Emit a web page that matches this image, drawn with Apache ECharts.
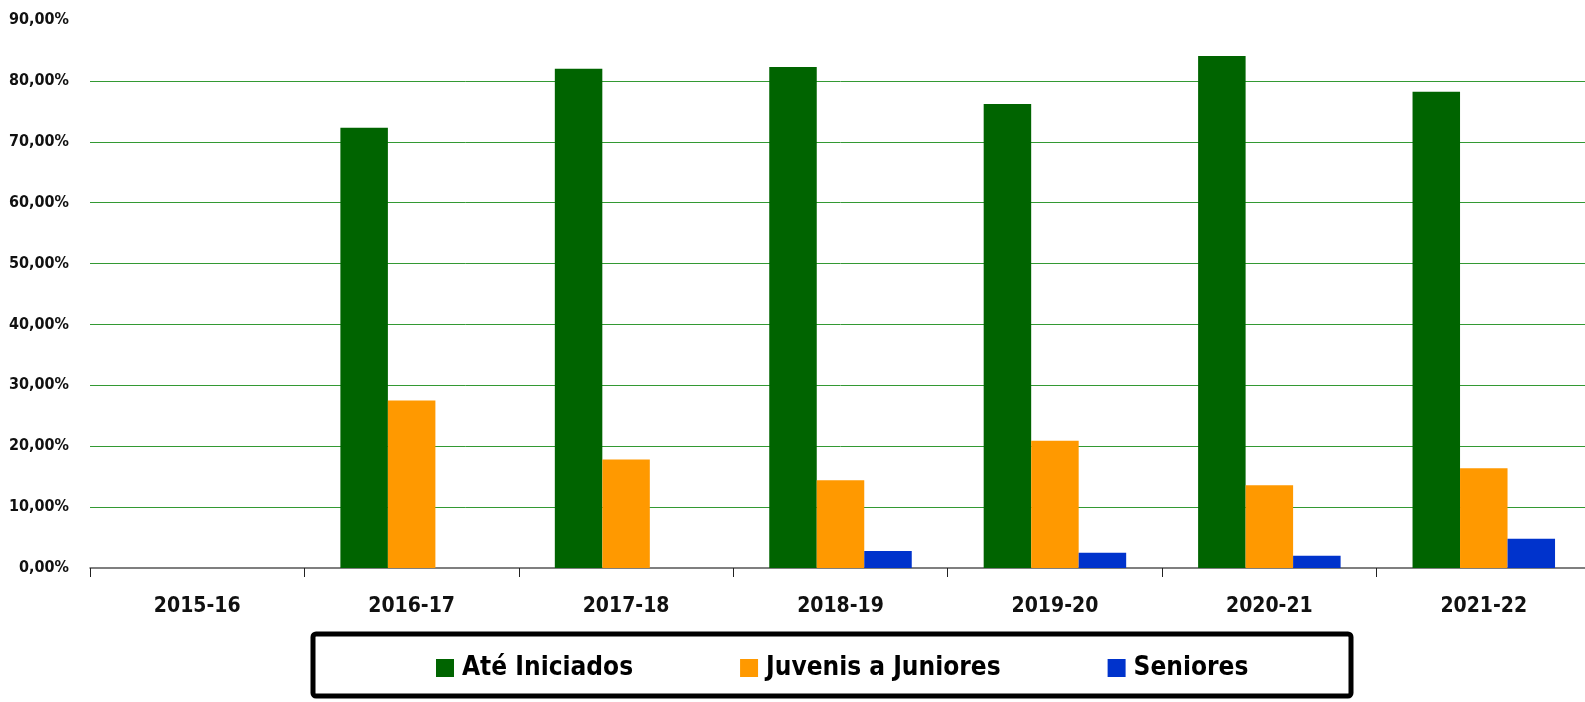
<!DOCTYPE html>
<html>
<head>
<meta charset="utf-8">
<script src="https://cdn.jsdelivr.net/npm/echarts@6/dist/echarts.min.js"></script>
<style>
html,body{margin:0;padding:0;background:#fff;overflow:hidden;width:1585px;height:702px;}
#chart{width:1591px;height:702px;}
</style>
</head>
<body>
<div id="chart"></div>
<script>
var categories = ['2015-16','2016-17','2017-18','2018-19','2019-20','2020-21','2021-22'];
var ateIniciados = [0, 72.3, 82.0, 82.3, 76.2, 84.1, 78.2];
var juvenisJuniores = [0, 27.5, 17.8, 14.4, 20.9, 13.6, 16.4];
var seniores = [0, 0, 0, 2.8, 2.5, 2.0, 4.8];
var seriesNames = ['Até Iniciados','Juvenis a Juniores','Seniores'];
var seriesColors = ['#006400','#FF9900','#0033CC'];

var FONT = '"DejaVu Sans Condensed","DejaVu Sans",sans-serif';
var chart = echarts.init(document.getElementById('chart'));
var dataSets = [ateIniciados, juvenisJuniores, seniores];
chart.setOption({
  animation:false,
  backgroundColor:'#fff',
  grid:{left:90,right:0,top:20,bottom:134,containLabel:false},
  graphic:[{type:'rect',shape:{x:313,y:634,width:1038,height:62,r:3},
    style:{fill:'none',stroke:'#000',lineWidth:5},z:0}],
  legend:{
    left:431, top:650, itemWidth:18, itemHeight:18, itemGap:107, icon:'rect',
    data:seriesNames,
    textStyle:{fontFamily:FONT,fontWeight:'bold',fontSize:26,color:'#000',padding:[0,0,0,3]}
  },
  xAxis:{
    type:'category', data:categories, boundaryGap:true,
    axisLine:{show:true,lineStyle:{color:'#555',width:1.5}},
    axisTick:{show:true,interval:0,length:9,lineStyle:{color:'#222',width:1}},
    axisLabel:{interval:0,margin:28,fontFamily:FONT,fontWeight:'bold',fontSize:21,color:'#111'}
  },
  yAxis:{
    type:'value', min:0, max:90, interval:10,
    axisLine:{show:false}, axisTick:{show:false},
    axisLabel:{margin:21,fontFamily:FONT,fontWeight:'bold',fontSize:16,color:'#111',
      formatter:function(v){return v.toFixed(2).replace('.',',')+'%';}},
    splitLine:{show:true,showMaxLine:false,showMinLine:false,lineStyle:{color:'#339933',width:1}}
  },
  series: seriesNames.map(function(n,i){
    return {name:n,type:'bar',data:dataSets[i],barWidth:47.5,barGap:'0%',
      itemStyle:{color:seriesColors[i]}};
  })
});
</script>
</body>
</html>
